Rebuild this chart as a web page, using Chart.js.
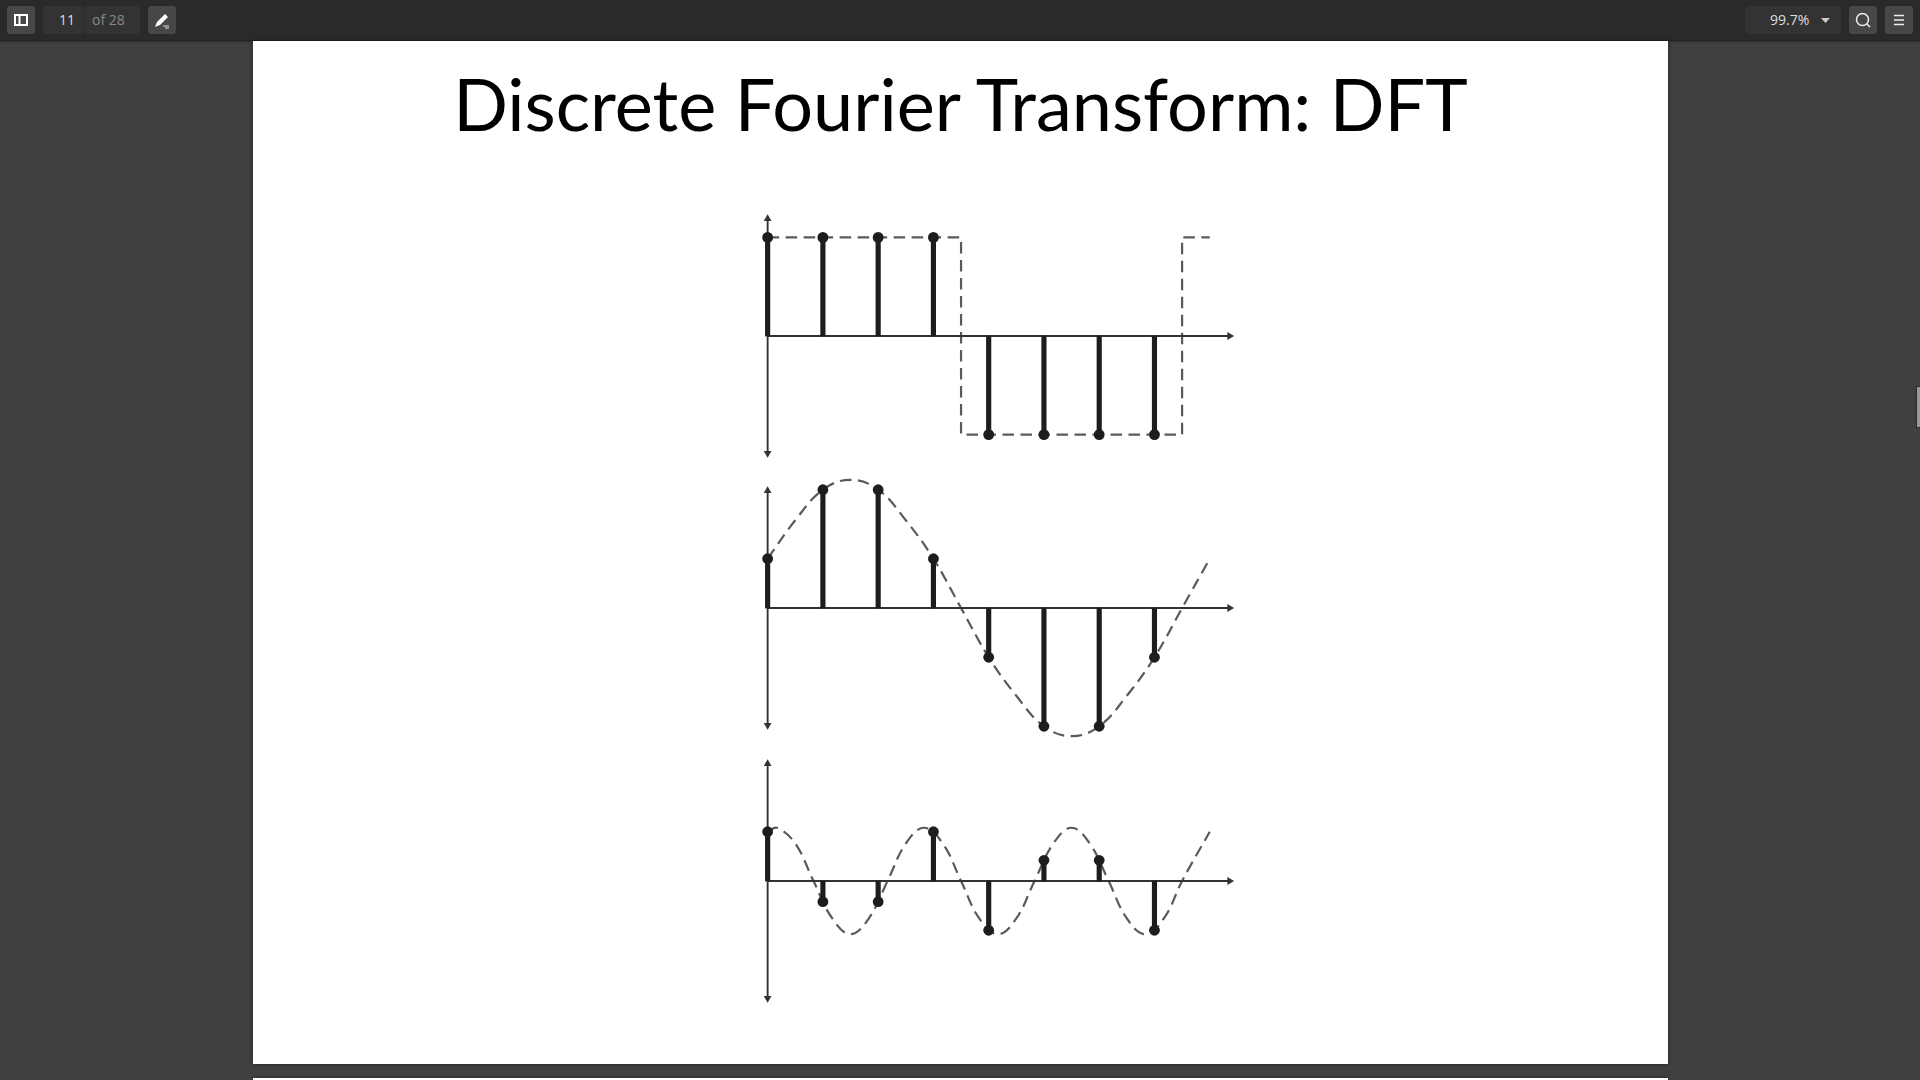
<!DOCTYPE html>
<html>
<head>
<meta charset="utf-8">
<title>Discrete Fourier Transform: DFT</title>
<script src="https://cdn.jsdelivr.net/npm/chart.js@4/dist/chart.umd.min.js"></script>
<style>
  html, body { margin: 0; height: 100%; overflow: hidden; background: #404040; font-family: "Open Sans", sans-serif; }
  #toolbar { position: absolute; left: 0; top: 0; width: 1920px; height: 41px; background: #2a2a2a; border-bottom: 1px solid #222; box-sizing: border-box; box-shadow: 0 1px 2px rgba(0,0,0,.3); }
  .btn { position: absolute; top: 6px; width: 28px; height: 28px; background: #474747; border-radius: 3px; }
  .btn svg { position: absolute; left: 0; top: 0; }
  .box { position: absolute; top: 6px; height: 28px; background: #333; border-radius: 3px; font-size: 14px; line-height: 28px; }
  #page { position: absolute; left: 253px; top: 41px; width: 1415px; height: 1023px; background: #fff; box-shadow: 0 0 4px rgba(0,0,0,.5); }
  #nextpage { position: absolute; left: 253px; top: 1078px; width: 1415px; height: 10px; background: #fff; box-shadow: 0 0 3px rgba(0,0,0,.5); }
  #heading { position: absolute; left: 253px; top: 53px; width: 1415px; text-align: center; font-family: Lato, sans-serif; font-size: 72px; line-height: 100px; color: #000; }
  #thumb { position: absolute; left: 1916px; top: 386px; width: 3px; height: 40px; background: #9a9a9a; border: 1px solid #2a2a2a; box-sizing: content-box; }
  canvas.panel { position: absolute; left: 740px; filter: blur(0.6px); }
</style>
</head>
<body>
<div id="toolbar">
  <div class="btn" style="left:7px"><svg width="28" height="28"><rect x="8" y="9" width="12" height="10" fill="none" stroke="#fff" stroke-width="2"/><line x1="12.5" y1="9" x2="12.5" y2="19" stroke="#fff" stroke-width="2"/></svg></div>
  <div class="box" style="left:43px;width:40px;color:#ddd"><span style="position:absolute;right:8px">11</span></div>
  <div class="box" style="left:84px;width:56px;color:#888"><span style="position:absolute;left:8px">of 28</span></div>
  <div class="btn" style="left:148px"><svg width="28" height="28"><path d="M7 21 L9 16 L17 8 L20 11 L12 19 Z" fill="#fff"/><path d="M15 20H21M17 22H21" stroke="#ddd" stroke-width="1"/></svg></div>
  <div class="box" style="left:1745px;width:96px;color:#ddd"><span style="position:absolute;left:25px">99.7%</span><svg width="12" height="8" style="position:absolute;left:75px;top:11px"><path d="M1 1H10L5.500 6Z" fill="#ccc"/></svg></div>
  <div class="btn" style="left:1849px"><svg width="28" height="28"><circle cx="13.500" cy="13.500" r="6" fill="none" stroke="#eee" stroke-width="1.500"/><line x1="18" y1="18" x2="21" y2="21" stroke="#eee" stroke-width="1.500"/></svg></div>
  <div class="btn" style="left:1885px"><svg width="28" height="28"><path d="M9 9.500H19M9 14H19M9 18.500H19" stroke="#eee" stroke-width="1.500"/></svg></div>
</div>
<div id="page"></div>
<div id="nextpage"></div>
<div id="thumb"></div>
<div id="heading">Discrete Fourier Transform: DFT</div>
<canvas class="panel" id="square" style="top:198px"></canvas>
<canvas class="panel" id="slow" style="top:470px"></canvas>
<canvas class="panel" id="fast" style="top:743px"></canvas>

<script>
const sampleIndex = [0, 1, 2, 3, 4, 5, 6, 7];
const squareSamples = [1, 1, 1, 1, -1, -1, -1, -1];
const slowSamples = [0.5, 1.2, 1.2, 0.5, -0.5, -1.2, -1.2, -0.5];
const fastSamples = [0.5, -0.21, -0.21, 0.5, -0.5, 0.21, 0.21, -0.5];

const squareCurveX = [0, 3.5, 3.5, 7.5, 7.5, 8];
const squareCurveY = [1, 1, -1, -1, 1, 1];
const slowCurveX = [0, 0.5, 1, 1.5, 2, 2.5, 3, 3.5, 4, 4.5, 5, 5.5, 6, 6.5, 7, 7.5, 8];
const slowCurveY = [0.5, 0.89, 1.2, 1.3, 1.2, 0.89, 0.5, 0, -0.5, -0.89, -1.2, -1.3, -1.2, -0.89, -0.5, 0, 0.5];
const fastCurveX = [0, 0.17, 0.5, 0.83, 1.17, 1.5, 1.83, 2.17, 2.5, 2.83, 3.17, 3.5, 3.83, 4.17, 4.5, 4.83, 5.17, 5.5, 5.83, 6.17, 6.5, 6.83, 7.17, 7.5, 8];
const fastCurveY = [0.5, 0.54, 0.38, 0, -0.38, -0.54, -0.38, 0, 0.38, 0.54, 0.38, 0, -0.38, -0.54, -0.38, 0, 0.38, 0.54, 0.38, 0, -0.38, -0.54, -0.38, 0, 0.5];

const xAxisX = [0, 8.36];
const xAxisY = [0, 0];
const yAxisX = [0, 0];
const yAxisY = [-1.19, 1.19];

const toPoints = (xs, ys) => xs.map((x, i) => ({ x, y: ys[i] }));

function drawPanel(id, samples, curveX, curveY, tension) {
    const canvas = document.getElementById(id);
    canvas.width = 525;
    canvas.height = 276;
    new Chart(canvas, {
        type: 'bar',
        data: {
            datasets: [
                {
                    type: 'line',
                    data: toPoints(curveX, curveY),
                    borderColor: '#5a5a5a',
                    borderWidth: 2.2,
                    borderDash: [11.5, 6.5],
                    tension,
                    pointRadius: 0,
                    order: 4
                },
                {
                    type: 'line',
                    data: toPoints(yAxisX, yAxisY),
                    borderColor: '#333',
                    backgroundColor: '#333',
                    borderWidth: 1.9,
                    pointStyle: 'triangle',
                    pointRadius: 4.5,
                    pointBorderWidth: 0,
                    rotation: [180, 0],
                    order: 3
                },
                {
                    type: 'line',
                    data: toPoints(xAxisX, xAxisY),
                    borderColor: '#333',
                    backgroundColor: '#333',
                    borderWidth: 1.9,
                    pointStyle: 'triangle',
                    pointRadius: [0, 4.5],
                    pointBorderWidth: 0,
                    rotation: 90,
                    order: 3
                },
                {
                    type: 'bar',
                    data: toPoints(sampleIndex, samples),
                    backgroundColor: '#1f1c1d',
                    barThickness: 4.5,
                    order: 2
                },
                {
                    type: 'line',
                    data: toPoints(sampleIndex, samples),
                    showLine: false,
                    backgroundColor: '#1f1c1d',
                    pointRadius: 5.4,
                    pointBorderWidth: 0,
                    order: 1
                }
            ]
        },
        options: {
            responsive: false,
            animation: false,
            devicePixelRatio: 1,
            layout: { padding: 0, autoPadding: false },
            plugins: { legend: { display: false }, tooltip: { enabled: false } },
            scales: {
                x: { type: 'linear', display: false, min: -0.5, max: 9, offset: false },
                y: { type: 'linear', display: false, min: -1.4, max: 1.4 }
            }
        }
    });
}

drawPanel('square', squareSamples, squareCurveX, squareCurveY, 0);
drawPanel('slow', slowSamples, slowCurveX, slowCurveY, 0.4);
drawPanel('fast', fastSamples, fastCurveX, fastCurveY, 0.4);
</script>
</body>
</html>
